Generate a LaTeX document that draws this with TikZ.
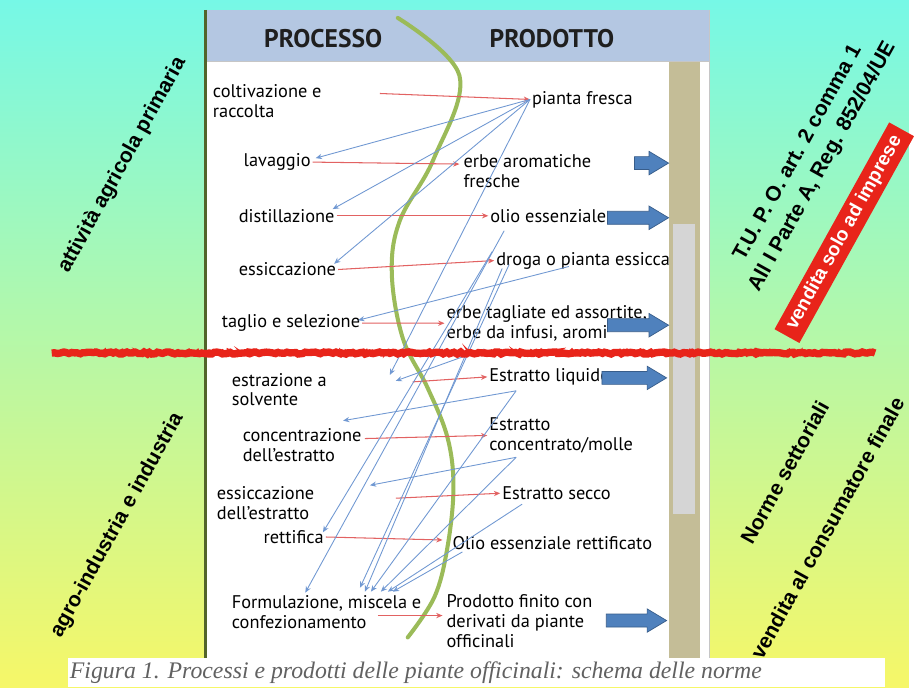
\documentclass[tikz,border=0pt]{standalone}
\usepackage{fontspec}
\setmainfont{PT Sans}
\newfontfamily\sidefont{Liberation Sans}
\newfontfamily\capfont{Liberation Serif}
\usetikzlibrary{shapes.arrows, arrows.meta, positioning, calc, decorations.pathmorphing}

\definecolor{bgtop}{RGB}{118,248,230}
\definecolor{bgmid}{RGB}{188,246,172}
\definecolor{bgbot}{RGB}{246,247,104}
\definecolor{headblue}{RGB}{180,199,226}
\definecolor{tanbar}{RGB}{196,189,151}
\definecolor{greybar}{RGB}{213,213,213}
\definecolor{arrowblue}{RGB}{79,129,189}
\definecolor{arrowedge}{RGB}{56,93,138}
\definecolor{linkred}{RGB}{226,98,98}
\definecolor{linkblue}{RGB}{112,152,210}
\definecolor{curvegreen}{RGB}{155,187,89}
\definecolor{cutred}{RGB}{232,36,26}
\definecolor{panelline}{RGB}{82,100,42}

\tikzset{
  proc/.style={inner sep=1pt, align=left, font=\fontsize{10.5}{11.4}\selectfont},
  prod/.style={proc},
  headtxt/.style={font=\bfseries\fontsize{14.6}{17}\selectfont, text=black!88},
  redlink/.style={draw=linkred, line width=0.6pt, -{Stealth[length=3.6pt,width=3pt]}},
  bluelink/.style={draw=linkblue, line width=0.5pt, -{Stealth[length=3.6pt,width=3pt]}},
  bigarrow/.style={single arrow, fill=arrowblue, draw=arrowedge, line width=0.4pt,
    inner sep=3.5pt, single arrow head extend=3pt, single arrow tip angle=62, anchor=tip},
  sidelabel/.style={font=\sidefont\bfseries\fontsize{12}{16}\selectfont, rotate=61, align=center},
  cutline/.style={draw=cutred, decorate, decoration={random steps, segment length=1.6pt, amplitude=0.6pt}},
}

\begin{document}
\begin{tikzpicture}[x=0.02cm, y=-0.02cm]
\pgfmathsetseed{7}
% sfondo
\shade[top color=bgtop, middle color=bgmid, bottom color=bgbot] (0,0) rectangle (914,691);

% pannello centrale
\fill[white] (207,10) rectangle (713,664);
\fill[headblue] (207,10) rectangle (713,62);
\draw[gray!45, line width=0.3pt] (207,62) -- (713,62) (713,10) -- (713,664);
\draw[panelline, line width=1.6pt] (207,10) -- (207,664);
\node[headtxt] (hproc) at (325,39) {PROCESSO};
\node[headtxt] (hprod) at (555,39) {PRODOTTO};

% processi
\node[proc, anchor=north west] (p1) at (212,83) {coltivazione e\\raccolta};
\node[proc, anchor=west] (p2) at (243,163) {lavaggio};
\node[proc, anchor=west] (p3) at (238,217) {distillazione};
\node[proc, anchor=west] (p4) at (238,271) {essiccazione};
\node[proc, anchor=west] (p5) at (221,325) {taglio e selezione};
\node[proc, anchor=north west] (p6) at (231,373) {estrazione a\\solvente};
\node[proc, anchor=north west] (p7) at (242,429) {concentrazione\\dell’estratto};
\node[proc, anchor=north west] (p8) at (216,487) {essiccazione\\dell’estratto};
\node[proc, anchor=west] (p9) at (263,540) {rettifica};
\node[proc, anchor=north west] (p10) at (231,597) {Formulazione, miscela e\\confezionamento};

% prodotti
\node[prod, anchor=west] (q1) at (533,100) {pianta fresca};
\node[prod, anchor=north west] (q2) at (464,153) {erbe aromatiche\\fresche};
\node[prod, anchor=west] (q3) at (491,217) {olio essenziale};
\node[prod, anchor=west] (q4) at (497,262) {droga o pianta essiccata};
\node[prod, anchor=north west] (q5) at (447,305) {erbe tagliate ed assortite,\\erbe da infusi, aromi};
\node[prod, anchor=west] (q6) at (490,379) {Estratto liquido};
\node[prod, anchor=north west] (q7) at (490,418) {Estratto\\concentrato/molle};
\node[prod, anchor=west] (q8) at (503,496) {Estratto secco};
\node[prod, anchor=west] (q9) at (453,546) {Olio essenziale rettificato};
\node[prod, anchor=north west] (q10) at (447,596) {Prodotto finito con\\derivati da piante\\officinali};

% barra a destra
\fill[tanbar] (673,62) rectangle (704,664);
\fill[greybar] (677,225) rectangle (699,517);

% frecce verso il mercato
\node[bigarrow, minimum height=19.5pt] (m1) at (673,164) {};
\node[bigarrow, minimum height=35pt] (m2) at (673,219) {};
\node[bigarrow, minimum height=35pt] (m3) at (673,327) {};
\node[bigarrow, minimum height=37pt] (m4) at (671,380) {};
\node[bigarrow, minimum height=34.5pt] (m5) at (671,624) {};

% linea verde
\draw[curvegreen, line width=2.3pt, line cap=round] plot[smooth, tension=0.6] coordinates
  {(400,18) (462,76) (436,160) (402,222) (394,275) (405,340) (430,390) (450,440) (456,490) (450,550) (437,600) (410,641)};

% processo -> prodotto
\draw[redlink] ($(p1.north west)+(170,11)$) -- (q1.west);
\draw[redlink] (p2.east) -- ($(q2.north west)+(-2,12)$);
\draw[redlink] (p3.east) -- (q3.west);
\draw[redlink] (p4.east) -- (q4.west);
\draw[redlink] (p5.east) -- (q5.west);
\draw[redlink] ($(p6.north west)+(184,11)$) -- (q6.west);
\draw[redlink] ($(p7.north west)+(125,12)$) -- (q7.west);
\draw[redlink] ($(p8.north west)+(182,14)$) -- (q8.west);
\draw[redlink] (p9.east) -- ($(q9.west)+(-8,-3)$);
\draw[redlink] ($(p10.north west)+(149,22)$) -- ($(q10.north west)+(-2,23)$);

% prodotto -> processo successivo
\draw[bluelink] (q1.west) -- ($(p2.east)+(3,-4)$);
\draw[bluelink] (q1.west) -- ($(p3.north east)+(-4,2)$);
\draw[bluelink] (q1.west) -- ($(p4.north east)+(-4,3)$);
\draw[bluelink] (q1.west) -- ($(p6.north west)+(161,4)$);
\draw[bluelink] ($(q3.west)+(4,36)$) -- ($(p9.north east)+(-3,4)$);
\draw[bluelink] ($(q3.west)+(16,15)$) -- ($(p10.north west)+(76,-1)$);
\draw[bluelink] ($(q4.west)+(15,4)$) -- ($(p10.north west)+(131,-6)$);
\draw[bluelink] ($(q4.west)+(8,8)$) -- ($(p10.north west)+(136,-2)$);
\draw[bluelink] ($(q4.west)+(75,6)$) -- ($(p5.east)+(-4,-3)$);
\draw[bluelink] ($(q5.west)+(40,26)$) -- ($(p6.north west)+(167,10)$);
\draw[bluelink] ($(q6.west)+(29,14)$) -- ($(p7.north west)+(103,-6)$);
\draw[bluelink] ($(q6.west)+(29,14)$) -- ($(p10.north west)+(142,-2)$);
\draw[bluelink] ($(q7.west)+(29,22)$) -- ($(p8.north west)+(156,1)$);
\draw[bluelink] ($(q7.west)+(29,22)$) -- ($(p10.north west)+(152,-2)$);
\draw[bluelink] ($(q8.west)+(22,11)$) -- ($(p10.north west)+(159,-2)$);
\draw[bluelink] ($(q9.west)+(12,9)$) -- ($(p10.north west)+(164,-2)$);

% taglio rosso
\draw[cutline, line width=4.2pt] (52,355) -- (880,355);
\draw[cutline, line width=1.2pt, decoration={amplitude=1.6pt}] (54,354) -- (878,354);

% etichette laterali
\node[sidelabel] (agri) at (123,166) {attività agricola primaria};
\node[sidelabel] (agro) at (118,528) {agro-industria e industria};
\node[sidelabel] (tupo) at (815,161) {T.U. P. O. art. 2 comma 1\\All I Parte A, Reg. 852/04/UE};
\node[sidelabel, fill=cutred, text=white, font=\sidefont\bfseries\fontsize{11}{13}\selectfont,
  inner xsep=5pt, inner ysep=3pt] (imprese) at (849,234) {vendita solo ad imprese};
\node[sidelabel] (settori) at (789,475) {Norme settoriali};
\node[sidelabel] (consum) at (832,531) {vendita al consumatore finale};

% didascalia
\fill[white] (68,662) rectangle (890,691);
\node[anchor=west, inner sep=0pt, text=black!62, font=\capfont\itshape\fontsize{13.6}{15}\selectfont] (cap) at (70,676)
  {Figura 1. Processi e prodotti delle piante officinali: schema delle norme};
\end{tikzpicture}
\end{document}
